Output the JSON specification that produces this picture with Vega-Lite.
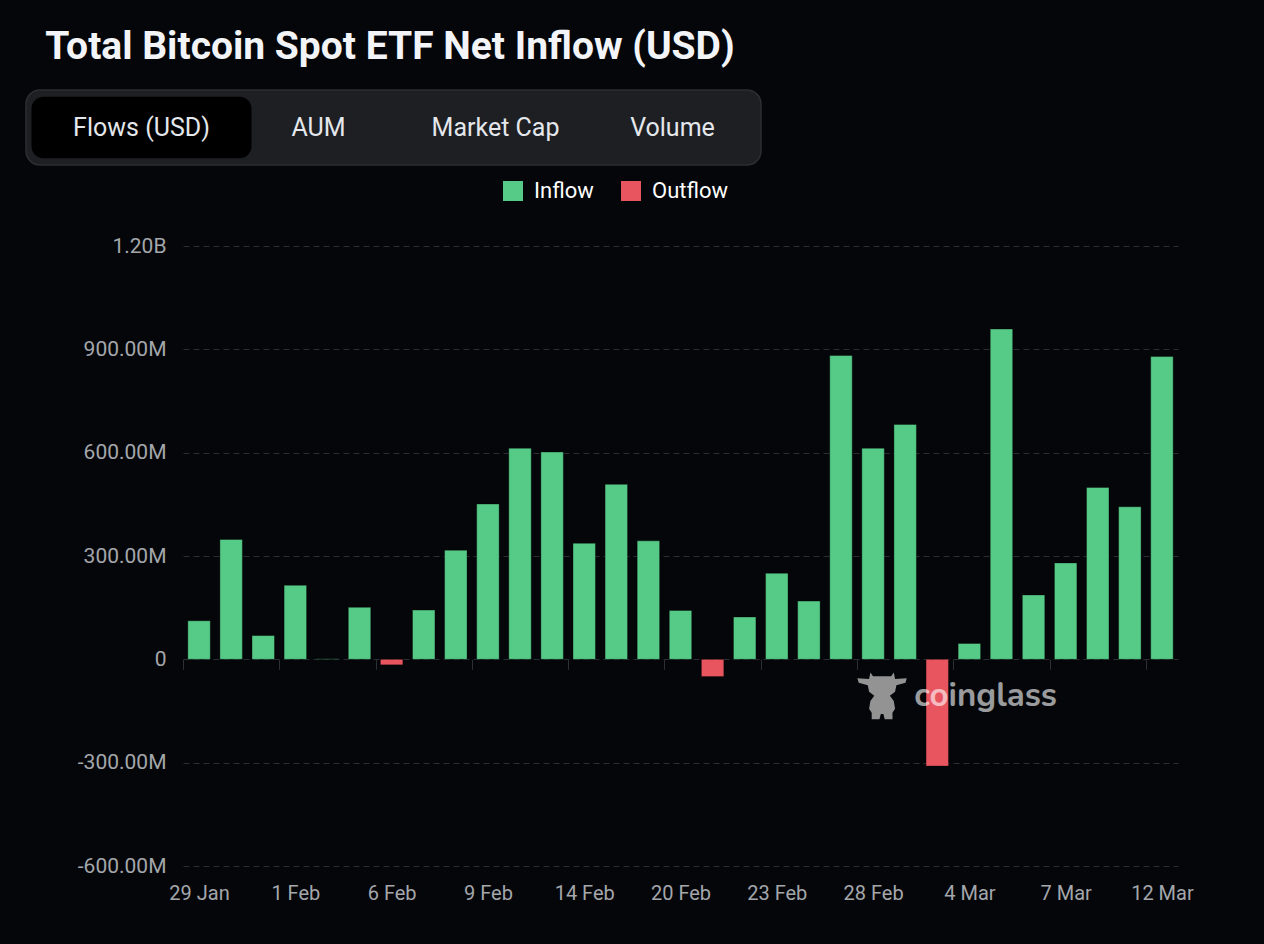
{
  "$schema": "https://vega.github.io/schema/vega-lite/v6.json",
  "background": "#04060a",
  "padding": {"left": 25, "top": 28, "right": 70, "bottom": 41},
  "title": {
    "text": "Total Bitcoin Spot ETF Net Inflow (USD)",
    "anchor": "start",
    "dx": 20,
    "fontSize": 39,
    "font": "Roboto",
    "fontWeight": "bold",
    "color": "#f2f4f7",
    "offset": 22
  },
  "spacing": 14,
  "resolve": {"legend": {"color": "independent"}},
  "config": {
    "font": "Roboto",
    "axis": {"labelFont": "Roboto", "labelColor": "#a4a7ab"}
  },
  "vconcat": [
    {
      "width": 735,
      "height": 75,
      "view": {"stroke": null},
      "resolve": {"scale": {"x": "independent"}},
      "data": {
        "values": [
          {"tab": "Flows (USD)", "active": true},
          {"tab": "AUM", "active": false},
          {"tab": "Market Cap", "active": false},
          {"tab": "Volume", "active": false}
        ]
      },
      "layer": [
        {
          "transform": [{"filter": "datum.active"}],
          "mark": {
            "type": "rect",
            "fill": "#1d1f23",
            "stroke": "#2b2e33",
            "strokeWidth": 1.5,
            "cornerRadius": 14,
            "xOffset": -157,
            "x2Offset": -157
          },
          "encoding": {
            "x": {"datum": 0, "type": "quantitative", "scale": {"domain": [0, 1]}, "axis": null},
            "x2": {"datum": 1},
            "y": {"datum": 0, "type": "quantitative", "scale": {"domain": [0, 1]}, "axis": null},
            "y2": {"datum": 1}
          }
        },
        {
          "encoding": {
            "x": {
              "field": "tab",
              "type": "nominal",
              "sort": null,
              "axis": null,
              "scale": {"paddingInner": 0, "paddingOuter": 0.0763, "align": 1}
            }
          },
          "layer": [
            {
              "transform": [{"filter": "datum.active"}],
              "mark": {"type": "bar", "fill": "#000000", "cornerRadius": 12, "width": 220, "xOffset": -157},
              "encoding": {
                "y": {"datum": 0.09, "type": "quantitative"},
                "y2": {"datum": 0.91}
              }
            },
            {
              "mark": {"type": "text", "fontSize": 25, "font": "Roboto", "color": "#e4e7eb", "xOffset": -157},
              "encoding": {"text": {"field": "tab"}}
            }
          ]
        }
      ]
    },
    {
      "width": 995,
      "height": 620,
      "view": {"stroke": null},
      "data": {
        "values": [
          {"date": "29 Jan", "flow_usd": 112000000, "direction": "Inflow"},
          {"date": "30 Jan", "flow_usd": 348000000, "direction": "Inflow"},
          {"date": "31 Jan", "flow_usd": 69000000, "direction": "Inflow"},
          {"date": "1 Feb", "flow_usd": 215000000, "direction": "Inflow"},
          {"date": "2 Feb", "flow_usd": 1500000, "direction": "Inflow"},
          {"date": "5 Feb", "flow_usd": 151000000, "direction": "Inflow"},
          {"date": "6 Feb", "flow_usd": -16000000, "direction": "Outflow"},
          {"date": "7 Feb", "flow_usd": 143000000, "direction": "Inflow"},
          {"date": "8 Feb", "flow_usd": 317000000, "direction": "Inflow"},
          {"date": "9 Feb", "flow_usd": 451000000, "direction": "Inflow"},
          {"date": "12 Feb", "flow_usd": 613000000, "direction": "Inflow"},
          {"date": "13 Feb", "flow_usd": 602000000, "direction": "Inflow"},
          {"date": "14 Feb", "flow_usd": 337000000, "direction": "Inflow"},
          {"date": "15 Feb", "flow_usd": 508000000, "direction": "Inflow"},
          {"date": "16 Feb", "flow_usd": 344000000, "direction": "Inflow"},
          {"date": "20 Feb", "flow_usd": 142000000, "direction": "Inflow"},
          {"date": "21 Feb", "flow_usd": -50000000, "direction": "Outflow"},
          {"date": "22 Feb", "flow_usd": 123000000, "direction": "Inflow"},
          {"date": "23 Feb", "flow_usd": 250000000, "direction": "Inflow"},
          {"date": "26 Feb", "flow_usd": 169000000, "direction": "Inflow"},
          {"date": "27 Feb", "flow_usd": 882000000, "direction": "Inflow"},
          {"date": "28 Feb", "flow_usd": 613000000, "direction": "Inflow"},
          {"date": "29 Feb", "flow_usd": 682000000, "direction": "Inflow"},
          {"date": "1 Mar", "flow_usd": -310000000, "direction": "Outflow"},
          {"date": "4 Mar", "flow_usd": 46000000, "direction": "Inflow"},
          {"date": "5 Mar", "flow_usd": 959000000, "direction": "Inflow"},
          {"date": "6 Mar", "flow_usd": 187000000, "direction": "Inflow"},
          {"date": "7 Mar", "flow_usd": 280000000, "direction": "Inflow"},
          {"date": "8 Mar", "flow_usd": 499000000, "direction": "Inflow"},
          {"date": "11 Mar", "flow_usd": 443000000, "direction": "Inflow"},
          {"date": "12 Mar", "flow_usd": 879000000, "direction": "Inflow"}
        ]
      },
      "encoding": {
        "x": {
          "field": "date",
          "type": "ordinal",
          "sort": null,
          "scale": {"paddingInner": 0.3, "paddingOuter": 0.15},
          "axis": {
            "title": null,
            "values": ["29 Jan", "1 Feb", "6 Feb", "9 Feb", "14 Feb", "20 Feb", "23 Feb", "28 Feb", "4 Mar", "7 Mar", "12 Mar"],
            "labelAngle": 0,
            "offset": -206.67,
            "tickBand": "center",
            "tickOffset": -16.05,
            "labelOffset": 16.05,
            "tickSize": 10,
            "tickColor": "#2c2f34",
            "domain": false,
            "grid": false,
            "labelPadding": 214,
            "labelFontSize": 20
          }
        }
      },
      "layer": [
        {
          "mark": {"type": "bar", "stroke": "#000000", "strokeOpacity": 0.35, "strokeWidth": 1},
          "encoding": {
            "y": {
              "field": "flow_usd",
              "type": "quantitative",
              "scale": {"domain": [-600000000, 1200000000]},
              "axis": {
                "title": null,
                "values": [-600000000, -300000000, 0, 300000000, 600000000, 900000000, 1200000000],
                "labelExpr": "datum.value == 0 ? '0' : (abs(datum.value) >= 1e9 ? format(datum.value / 1e9, '.2f') + 'B' : (datum.value < 0 ? '-' : '') + format(abs(datum.value) / 1e6, '.2f') + 'M')",
                "ticks": false,
                "domain": false,
                "gridColor": "#2a2d32",
                "gridDash": [6, 4],
                "gridWidth": 1,
                "labelPadding": 17,
                "labelFontSize": 21,
                "minExtent": 157
              }
            },
            "color": {
              "field": "direction",
              "type": "nominal",
              "scale": {"domain": ["Inflow", "Outflow"], "range": ["#56ca87", "#e8555f"]},
              "legend": {
                "title": null,
                "orient": "none",
                "legendX": 319,
                "legendY": -66,
                "direction": "horizontal",
                "symbolType": "square",
                "symbolSize": 400,
                "symbolStrokeWidth": 0,
                "labelFontSize": 22,
                "labelColor": "#ffffff",
                "labelFont": "Roboto",
                "columnPadding": 26,
                "labelOffset": 10
              }
            }
          }
        },
        {
          "data": {"values": [{"brand": "coinglass"}]},
          "mark": {
            "type": "point",
            "shape": "M-0.45,-0.85 L-0.35,-0.7 L0.35,-0.7 L0.45,-0.85 L0.5,-0.6 L0.95,-0.62 L0.9,-0.45 L0.55,-0.35 L0.5,-0.1 L0.3,0.05 L0.45,0.25 L0.5,0.55 L0.4,0.7 L0.4,0.95 L0.1,0.95 L0.05,0.75 L-0.05,0.75 L-0.1,0.95 L-0.4,0.95 L-0.4,0.7 L-0.5,0.55 L-0.45,0.25 L-0.3,0.05 L-0.5,-0.1 L-0.55,-0.35 L-0.9,-0.45 L-0.95,-0.62 L-0.5,-0.6 Z",
            "filled": true,
            "fill": "#a3a3a3",
            "opacity": 0.9,
            "size": 2700,
            "xOffset": 9
          },
          "encoding": {
            "x": {"datum": "28 Feb"},
            "y": {"datum": -102000000, "type": "quantitative"}
          }
        },
        {
          "data": {"values": [{"brand": "coinglass"}]},
          "mark": {
            "type": "text",
            "fontSize": 33,
            "fontWeight": "bold",
            "font": "Nunito, Roboto",
            "color": "#ffffff",
            "opacity": 0.6,
            "align": "left",
            "baseline": "alphabetic",
            "dx": -23
          },
          "encoding": {
            "text": {"field": "brand"},
            "x": {"datum": "1 Mar"},
            "y": {"datum": -136000000, "type": "quantitative"}
          }
        }
      ]
    }
  ]
}
